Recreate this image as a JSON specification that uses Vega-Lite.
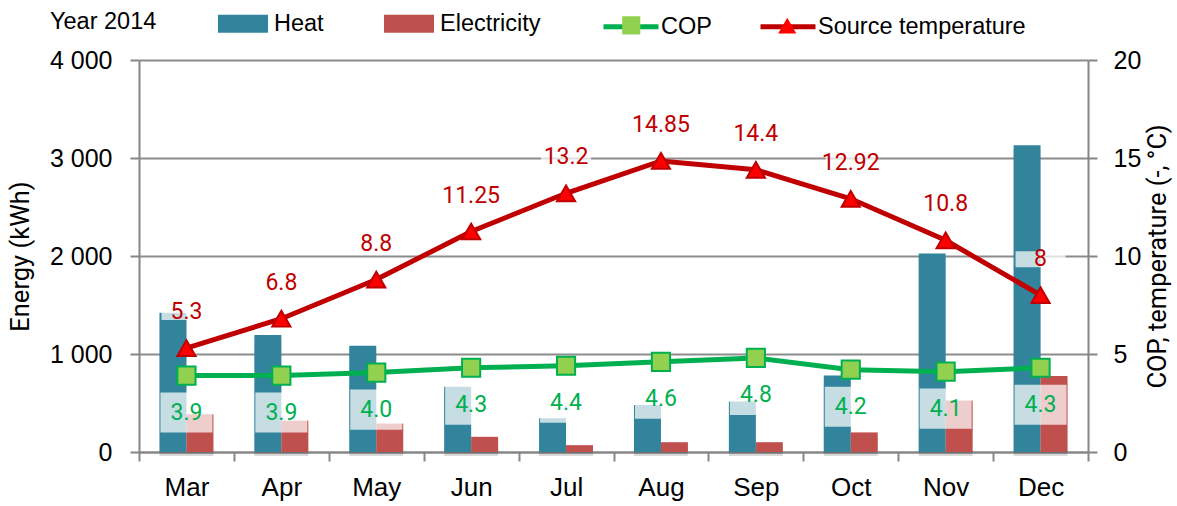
{
  "$schema": "https://vega.github.io/schema/vega-lite/v6.json",
  "autosize": {"type": "none"},
  "padding": {"left": 139, "top": 60, "right": 89, "bottom": 54},
  "width": 949,
  "height": 392,
  "background": "white",
  "config": {
    "view": {"stroke": null},
    "font": "Liberation Sans",
    "axis": {"labelFont": "Liberation Sans", "labelFontSize": 25, "labelColor": "#000", "domainColor": "#868686", "tickColor": "#868686", "domainWidth": 2, "tickWidth": 2, "titleFont": "Roboto", "titleFontSize": 25.5, "titleFontWeight": "normal", "titleColor": "#000"},
    "legend": {"labelFont": "Liberation Sans", "labelFontSize": 23.5, "labelColor": "#000", "padding": 0, "labelLimit": 400}
  },
  "datasets": {
    "energy": [
      {"month": "Mar", "series": "Heat", "kwh": 1420},
      {"month": "Mar", "series": "Electricity", "kwh": 385},
      {"month": "Apr", "series": "Heat", "kwh": 1195},
      {"month": "Apr", "series": "Electricity", "kwh": 320},
      {"month": "May", "series": "Heat", "kwh": 1085},
      {"month": "May", "series": "Electricity", "kwh": 290},
      {"month": "Jun", "series": "Heat", "kwh": 665},
      {"month": "Jun", "series": "Electricity", "kwh": 155},
      {"month": "Jul", "series": "Heat", "kwh": 345},
      {"month": "Jul", "series": "Electricity", "kwh": 70},
      {"month": "Aug", "series": "Heat", "kwh": 480},
      {"month": "Aug", "series": "Electricity", "kwh": 100},
      {"month": "Sep", "series": "Heat", "kwh": 515},
      {"month": "Sep", "series": "Electricity", "kwh": 100},
      {"month": "Oct", "series": "Heat", "kwh": 780},
      {"month": "Oct", "series": "Electricity", "kwh": 200},
      {"month": "Nov", "series": "Heat", "kwh": 2025},
      {"month": "Nov", "series": "Electricity", "kwh": 525},
      {"month": "Dec", "series": "Heat", "kwh": 3130},
      {"month": "Dec", "series": "Electricity", "kwh": 775}
    ],
    "lines": [
      {"month": "Mar", "series": "COP", "m": "mCOP", "value": 3.9, "label": "3.9"},
      {"month": "Apr", "series": "COP", "m": "mCOP", "value": 3.9, "label": "3.9"},
      {"month": "May", "series": "COP", "m": "mCOP", "value": 4.05, "label": "4.0"},
      {"month": "Jun", "series": "COP", "m": "mCOP", "value": 4.3, "label": "4.3"},
      {"month": "Jul", "series": "COP", "m": "mCOP", "value": 4.4, "label": "4.4"},
      {"month": "Aug", "series": "COP", "m": "mCOP", "value": 4.6, "label": "4.6"},
      {"month": "Sep", "series": "COP", "m": "mCOP", "value": 4.8, "label": "4.8"},
      {"month": "Oct", "series": "COP", "m": "mCOP", "value": 4.2, "label": "4.2"},
      {"month": "Nov", "series": "COP", "m": "mCOP", "value": 4.1, "label": "4.1"},
      {"month": "Dec", "series": "COP", "m": "mCOP", "value": 4.3, "label": "4.3"},
      {"month": "Mar", "series": "Source temperature", "m": "mTemp", "value": 5.3, "label": "5.3"},
      {"month": "Apr", "series": "Source temperature", "m": "mTemp", "value": 6.8, "label": "6.8"},
      {"month": "May", "series": "Source temperature", "m": "mTemp", "value": 8.8, "label": "8.8"},
      {"month": "Jun", "series": "Source temperature", "m": "mTemp", "value": 11.25, "label": "11.25"},
      {"month": "Jul", "series": "Source temperature", "m": "mTemp", "value": 13.2, "label": "13.2"},
      {"month": "Aug", "series": "Source temperature", "m": "mTemp", "value": 14.85, "label": "14.85"},
      {"month": "Sep", "series": "Source temperature", "m": "mTemp", "value": 14.4, "label": "14.4"},
      {"month": "Oct", "series": "Source temperature", "m": "mTemp", "value": 12.92, "label": "12.92"},
      {"month": "Nov", "series": "Source temperature", "m": "mTemp", "value": 10.8, "label": "10.8"},
      {"month": "Dec", "series": "Source temperature", "m": "mTemp", "value": 8, "label": "8"}
    ]
  },
  "encoding": {
    "x": {
      "field": "month", "type": "nominal", "sort": ["Mar","Apr","May","Jun","Jul","Aug","Sep","Oct","Nov","Dec"],
      "scale": {"paddingInner": 0, "paddingOuter": 0},
      "axis": {"title": null, "tickBand": "extent", "tickSize": 9, "labelPadding": 13, "labelFontSize": 26, "labelAngle": 0, "grid": false}
    }
  },
  "layer": [
    {
      "data": {"name": "energy"},
      "encoding": {
        "y": {"field": "kwh", "type": "quantitative", "scale": {"domain": [0, 4000]},
          "axis": {"title": "Energy (kWh)", "titleAngle": 270, "titleX": -119, "titleY": 196, "titleBaseline": "middle", "titleAlign": "center", "values": [0,1000,2000,3000,4000], "grid": true, "gridColor": "#8c8c8c", "gridWidth": 2, "tickSize": 9, "labelPadding": 18, "labelExpr": "replace(format(datum.value, ','), ',', ' ')"}},
        "xOffset": {"field": "series", "type": "nominal", "sort": ["Heat", "Electricity"], "scale": {"paddingInner": 0, "paddingOuter": 0.76}}
      },
      "layer": [
        {
          "mark": {"type": "bar", "color": "#000", "opacity": 0.15, "xOffset": 5, "x2Offset": 7, "yOffset": 4},
          "encoding": {}
        },
        {
          "mark": {"type": "bar"},
          "encoding": {
            "color": {"field": "series", "type": "nominal", "scale": {"domain": ["Heat", "Electricity"], "range": ["#31849B", "#C0504D"]},
              "legend": {"title": "Year 2014", "titleOrient": "left", "titleFont": "Liberation Sans", "titleFontSize": 23.5, "titleFontWeight": "normal", "titleColor": "#000", "titleBaseline": "line-top", "titleLineHeight": 11, "titlePadding": 61, "orient": "none", "direction": "horizontal", "legendX": -89, "legendY": -61.5, "symbolType": "M-1,-0.36H1V0.36H-1Z", "symbolSize": 2500, "symbolStrokeWidth": 0, "symbolOpacity": 1, "labelOffset": 6, "columnPadding": 60}}
          }
        }
      ]
    },
    {
      "data": {"name": "lines"},
      "encoding": {
        "y": {"field": "value", "type": "quantitative", "scale": {"domain": [0, 20]},
          "axis": {"orient": "right", "title": "COP, temperature (-, °C)", "titleAngle": 270, "titleX": 69, "titleY": 196, "titleBaseline": "middle", "titleAlign": "center", "values": [0,5,10,15,20], "grid": false, "tickSize": 9, "labelPadding": 16}}
      },
      "layer": [
        {
          "mark": {"type": "line", "strokeWidth": 5},
          "encoding": {
            "stroke": {"field": "series", "type": "nominal", "scale": {"domain": ["COP", "Source temperature"], "range": ["#00B050", "#C00000"]},
              "legend": {"title": null, "orient": "none", "direction": "horizontal", "legendX": 462, "legendY": -63.5, "symbolType": "stroke", "symbolSize": 3025, "symbolStrokeWidth": 5, "labelOffset": 0, "columnPadding": 38}}
          }
        },
        {
          "mark": {"type": "point", "filled": true, "opacity": 1, "strokeWidth": 2, "size": 330},
          "encoding": {
            "stroke": {"field": "series", "type": "nominal"},
            "fill": {"field": "m", "type": "nominal", "scale": {"domain": ["mCOP", "mTemp"], "range": ["#92D050", "#FF0000"]},
              "legend": {"title": null, "orient": "none", "direction": "horizontal", "legendX": 480.5, "legendY": -46.5, "labelExpr": "''", "symbolSize": 330, "labelOffset": 0, "columnPadding": 131, "encode": {"symbols": {"update": {"stroke": {"signal": "datum.value === 'mCOP' ? '#00B050' : '#C00000'"}, "strokeWidth": {"value": 2}}}}}},
            "shape": {"field": "m", "type": "nominal", "scale": {"domain": ["mCOP", "mTemp"], "range": ["square", "triangle-up"]},
              "legend": {"title": null, "orient": "none", "direction": "horizontal", "legendX": 480.5, "legendY": -46.5, "labelExpr": "''", "symbolSize": 330, "labelOffset": 0, "columnPadding": 131}}
          }
        },
        {
          "transform": [{"filter": "datum.series === 'COP'"}],
          "mark": {"type": "point", "shape": "M-1,-0.77H1V0.77H-1Z", "size": 2704, "filled": true, "color": "white", "opacity": 0.72, "strokeWidth": 0, "yOffset": 37},
          "encoding": {}
        },
        {
          "transform": [{"filter": "datum.series === 'COP'"}],
          "mark": {"type": "text", "font": "Roboto", "fontSize": 23, "color": "#00B050", "dy": 37, "baseline": "middle"},
          "encoding": {"text": {"field": "label"}}
        },
        {
          "transform": [{"filter": "datum.series !== 'COP'"}],
          "mark": {"type": "point", "shape": "M-1,-0.32H1V0.32H-1Z", "size": 2500, "filled": true, "color": "white", "opacity": 0.72, "strokeWidth": 0, "yOffset": -36},
          "encoding": {}
        },
        {
          "transform": [{"filter": "datum.series !== 'COP'"}],
          "mark": {"type": "text", "font": "Roboto", "fontSize": 23, "color": "#C00000", "dy": -36, "baseline": "middle"},
          "encoding": {"text": {"field": "label"}}
        }
      ]
    }
  ],
  "resolve": {"scale": {"y": "independent"}}
}
